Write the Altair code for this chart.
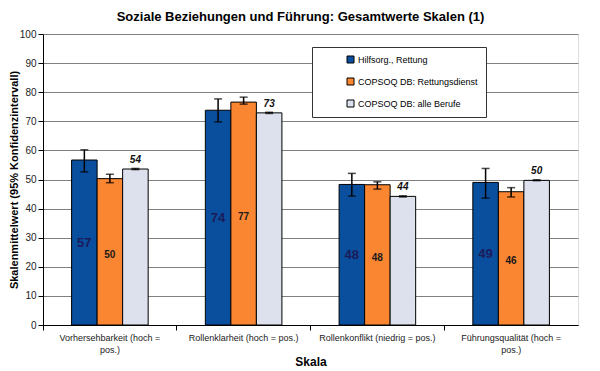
import altair as alt
import pandas as pd

categories = ["Vorhersehbarkeit (hoch =\npos.)", "Rollenklarheit (hoch = pos.)",
              "Rollenkonflikt (niedrig = pos.)", "Führungsqualität (hoch =\npos.)"]
series = ["Hilfsorg., Rettung", "COPSOQ DB: Rettungsdienst", "COPSOQ DB: alle Berufe"]
colors = ["#0A4F9E", "#FA8632", "#DDE1EE"]

val_hilfs = [56.7, 73.8, 48.3, 49.0]
lo_hilfs = [52.6, 69.8, 44.3, 43.6]
hi_hilfs = [60.2, 77.7, 52.1, 53.8]

val_rd = [50.3, 76.6, 48.2, 45.8]
lo_rd = [48.9, 75.9, 46.7, 44.0]
hi_rd = [51.8, 78.3, 49.2, 47.2]

val_all = [53.6, 72.9, 44.2, 49.7]
lo_all = [53.4, 72.7, 44.0, 49.6]
hi_all = [53.8, 73.1, 44.4, 49.9]

y_ticks = [0, 10, 20, 30, 40, 50, 60, 70, 80, 90, 100]

rows = []
for s, vals, los, his in zip(series, [val_hilfs, val_rd, val_all],
                             [lo_hilfs, lo_rd, lo_all], [hi_hilfs, hi_rd, hi_all]):
    for c, v, lo, hi in zip(categories, vals, los, his):
        rows.append({"cat": c, "series": s, "value": v, "lo": lo, "hi": hi,
                     "mid": v / 2, "label": f"{round(v):d}"})
df = pd.DataFrame(rows)

FONT = "Liberation Sans"

x_enc = alt.X("cat:N", sort=categories, title="Skala",
              scale=alt.Scale(paddingInner=0, paddingOuter=0),
              axis=alt.Axis(labelAngle=0, labelExpr="split(datum.value, '\\n')",
                            bandPosition=0, tickSize=5, tickColor="black",
                            domainColor="black", labelFontSize=9, labelColor="#222",
                            labelFont=FONT, labelPadding=3, labelLineHeight=12,
                            titleFont=FONT, titleFontSize=12, titleFontWeight="bold",
                            titlePadding=2, titleColor="black"))
# two empty slots pad the group so the three bars sit in the middle of each category
xo_domain = ["_l"] + series + ["_r"]
xo_enc = alt.XOffset("series:N",
                     scale=alt.Scale(domain=xo_domain, paddingInner=0, paddingOuter=0.12))
y_scale = alt.Scale(domain=[0, 100], nice=False)
y_axis = alt.Axis(values=y_ticks, labelOverlap=False, tickSize=5, tickColor="black",
                  domainColor="black", gridColor="#808080", gridWidth=1,
                  labelFontSize=10, labelColor="#222", labelFont=FONT,
                  labelPadding=2, titleFont=FONT, titleFontSize=11,
                  titleFontWeight="bold", titleColor="black", titlePadding=0)
Y_TITLE = "Skalenmittelwert (95% Konfidenzintervall)"


def yenc(field):
    return alt.Y(field, type="quantitative", scale=y_scale, axis=y_axis, title=Y_TITLE)


base = alt.Chart(df).encode(x=x_enc, xOffset=xo_enc)

bars = base.mark_bar(stroke="black", strokeWidth=1).encode(
    y=yenc("value"),
    color=alt.Color("series:N", sort=series,
                    scale=alt.Scale(domain=series, range=colors),
                    legend=alt.Legend(title=None, orient="none", legendX=269, legendY=13,
                                      strokeColor="#333", fillColor="white", padding=8,
                                      symbolType="square", symbolSize=49,
                                      symbolStrokeColor="black", symbolStrokeWidth=1,
                                      symbolOffset=26, labelFont=FONT, labelFontSize=9,
                                      labelColor="black", rowPadding=11, labelOffset=3,
                                      cornerRadius=0)),
)

rule = base.mark_rule(color="black", strokeWidth=1.5).encode(y=yenc("lo"), y2="hi:Q")
cap_top = base.mark_tick(color="black", thickness=1.5, size=8, orient="horizontal").encode(
    y=yenc("hi"))
cap_bot = base.mark_tick(color="black", thickness=1.5, size=8, orient="horizontal").encode(
    y=yenc("lo"))

txt_blue = base.transform_filter(alt.datum.series == series[0]).mark_text(
    font=FONT, fontSize=13, fontWeight="bold", color="#1B1B5A", baseline="middle"
).encode(y=yenc("mid"), text="label:N")
txt_orange = base.transform_filter(alt.datum.series == series[1]).mark_text(
    font=FONT, fontSize=10, fontWeight="bold", color="#1a1a1a", baseline="middle", dy=3
).encode(y=yenc("mid"), text="label:N")
txt_grey = base.transform_filter(alt.datum.series == series[2]).mark_text(
    font=FONT, fontSize=10, fontWeight="bold", fontStyle="italic", color="#111",
    baseline="bottom", dy=-4
).encode(y=yenc("value"), text="label:N")

chart = alt.layer(bars, rule, cap_top, cap_bot, txt_blue, txt_orange, txt_grey).properties(
    width=535, height=291,
    title=alt.TitleParams("Soziale Beziehungen und Führung: Gesamtwerte Skalen (1)",
                          font=FONT, fontSize=13, fontWeight="bold", color="black",
                          anchor="middle", offset=5, dx=-10),
    autosize=alt.AutoSizeParams(type="none"),
    padding={"left": 35, "top": 26, "right": 14, "bottom": 46},
).configure_view(stroke="#808080", strokeWidth=1).configure(background="white")

chart.save("out.html", embed_options={"renderer": "svg", "actions": False})
